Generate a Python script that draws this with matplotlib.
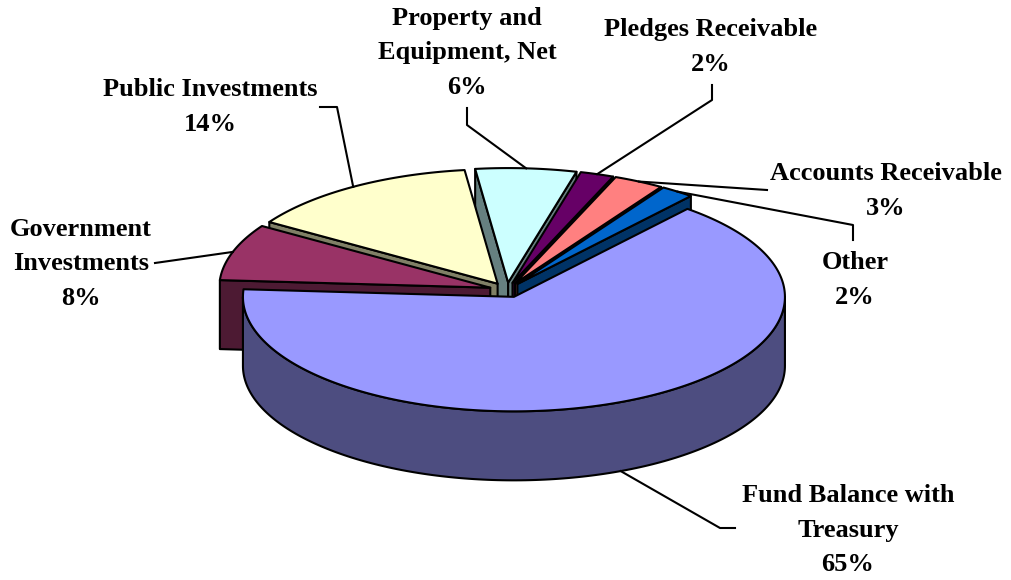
import numpy as np
import matplotlib
matplotlib.use("Agg")
from matplotlib import pyplot as plt
from matplotlib.patches import Polygon

# slices, clockwise starting from the first one
labels = ["Fund Balance with\nTreasury", "Government\nInvestments", "Public Investments",
          "Property and\nEquipment, Net", "Pledges Receivable", "Accounts Receivable", "Other"]
values = [65, 8, 14, 6, 2, 3, 2]
top_colors = ["#9999FF", "#993366", "#FFFFCC", "#CCFFFF", "#660066", "#FF8080", "#0066CC"]
side_colors = ["#4D4D80", "#4D1A33", "#808066", "#668080", "#330033", "#804040", "#003366"]

# label placement (centre of text block) and leader elbows
label_xy = [(848, 530), (81, 264), (210, 107), (467, 53), (711, 47), (886, 191), (855, 280)]
leader_pts = [[(735, 528), (720, 528)], [(155, 263)], [(320, 107), (337, 107)],
              [(467, 108), (467, 125)], [(712, 85), (712, 100)], [(767, 190)],
              [(853, 240), (853, 225)]]

# pie geometry in pixel units
CX, CY = 507, 290
RX, RY = 271, 114.5
DEPTH = 69
EXPLODE = 0.065
START = 39.8

fig = plt.figure(figsize=(10.11, 5.80), dpi=100)
ax = fig.add_axes([0, 0, 1, 1])
ax.set_xlim(0, 1011)
ax.set_ylim(580, 0)
ax.axis("off")

total = float(sum(values))
angles = []
a = START
for v in values:
    angles.append((a, a + 360 * v / total))
    a += 360 * v / total


def rim(cx, cy, t, z=0):
    r = np.radians(t)
    return cx + RX * np.sin(r), cy - RY * np.cos(r) + z


def arc(cx, cy, a0, a1, z=0, n=None):
    if n is None:
        n = max(int(abs(a1 - a0)), 2)
    ts = np.linspace(a0, a1, n)
    xs, ys = rim(cx, cy, ts, z)
    return list(zip(xs, ys))


centers = []
for a0, a1 in angles:
    m = np.radians((a0 + a1) / 2)
    centers.append((CX + EXPLODE * RX * np.sin(m), CY - EXPLODE * RY * np.cos(m)))

# collect side faces, then paint back to front
faces = []
for i, ((a0, a1), (cx, cy)) in enumerate(zip(angles, centers)):
    # outer wall, front half only
    for lo, hi in [(90, 270), (450, 630)]:
        s, e = max(a0, lo), min(a1, hi)
        if e > s:
            top = arc(cx, cy, s, e)
            bot = arc(cx, cy, s, e, DEPTH)[::-1]
            key = np.mean([p[1] for p in top])
            faces.append((key, top + bot, side_colors[i]))
    # cut faces
    if np.sin(np.radians(a0)) < 0:
        rx, ry = rim(cx, cy, a0)
        pts = [(cx, cy), (rx, ry), (rx, ry + DEPTH), (cx, cy + DEPTH)]
        faces.append(((cy + ry) / 2, pts, side_colors[i]))
    if np.sin(np.radians(a1)) > 0:
        rx, ry = rim(cx, cy, a1)
        pts = [(cx, cy), (rx, ry), (rx, ry + DEPTH), (cx, cy + DEPTH)]
        faces.append(((cy + ry) / 2, pts, side_colors[i]))

faces.sort(key=lambda f: f[0])
for key, pts, col in faces:
    ax.add_patch(Polygon(pts, closed=True, facecolor=col, edgecolor="black",
                         linewidth=1.5, joinstyle="round"))

for i, ((a0, a1), (cx, cy)) in enumerate(zip(angles, centers)):
    pts = [(cx, cy)] + arc(cx, cy, a0, a1)
    ax.add_patch(Polygon(pts, closed=True, facecolor=top_colors[i], edgecolor="black",
                         linewidth=1.5, joinstyle="round"))

# labels and leader lines
for i, lab in enumerate(labels):
    a0, a1 = angles[i]
    cx, cy = centers[i]
    m = (a0 + a1) / 2
    px, py = rim(cx, cy, m)
    if np.cos(np.radians(m)) < -0.5:
        py += DEPTH
    path = leader_pts[i] + [(px, py)]
    ax.plot([p[0] for p in path], [p[1] for p in path], color="black", linewidth=1.5)
    ax.text(label_xy[i][0], label_xy[i][1], f"{lab}\n{values[i]}%", ha="center", va="center",
            fontsize=19, fontweight="bold", family="Liberation Serif", linespacing=1.62)

fig.savefig("out.png", dpi=100)
